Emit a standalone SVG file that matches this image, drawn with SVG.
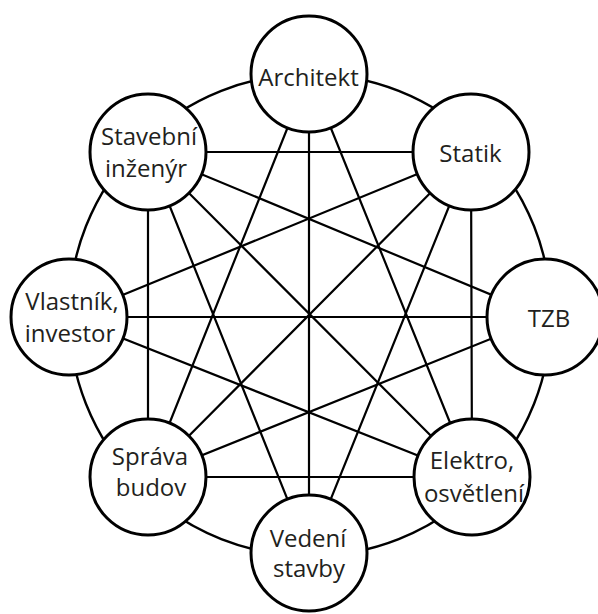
<svg xmlns="http://www.w3.org/2000/svg" width="598" height="614" viewBox="0 0 598 614">
  <style>
    .ring { fill: none; stroke: #000; stroke-width: 2.4; }
    .link { stroke: #000; stroke-width: 2.2; stroke-linecap: round; }
    .node circle { fill: #fff; stroke: #000; stroke-width: 3; }
    .node text { font-family: "Open Sans", "Noto Sans", sans-serif; font-size: 24px; fill: #231f20; text-anchor: middle; }
  </style>

  <!-- outer ring joining neighbouring roles -->
  <g id="connectors">
    <circle class="ring" cx="310" cy="315" r="241"/>
    <g class="links">
      <!-- Architekt -->
      <line class="link" x1="309" y1="74" x2="148" y2="477"/>
      <line class="link" x1="309" y1="74" x2="309" y2="553"/>
      <line class="link" x1="309" y1="74" x2="472" y2="477"/>
      <!-- Statik -->
      <line class="link" x1="471" y1="152" x2="148" y2="152"/>
      <line class="link" x1="471" y1="152" x2="69" y2="317"/>
      <line class="link" x1="471" y1="152" x2="148" y2="477"/>
      <line class="link" x1="471" y1="152" x2="309" y2="553"/>
      <line class="link" x1="471" y1="152" x2="472" y2="477"/>
      <!-- TZB -->
      <line class="link" x1="545" y1="317" x2="148" y2="152"/>
      <line class="link" x1="545" y1="317" x2="69" y2="317"/>
      <line class="link" x1="545" y1="317" x2="148" y2="477"/>
      <!-- Elektro, osvětlení -->
      <line class="link" x1="472" y1="477" x2="148" y2="152"/>
      <line class="link" x1="472" y1="477" x2="69" y2="317"/>
      <line class="link" x1="472" y1="477" x2="148" y2="477"/>
      <!-- Vedení stavby -->
      <line class="link" x1="309" y1="553" x2="148" y2="152"/>
      <!-- Správa budov -->
      <line class="link" x1="148" y1="477" x2="148" y2="152"/>
    </g>
  </g>

  <g id="architekt" class="node">
    <circle cx="309" cy="74" r="58"/>
    <text x="308.5" y="86">Architekt</text>
  </g>
  <g id="statik" class="node">
    <circle cx="471" cy="152" r="58"/>
    <text x="470.5" y="162">Statik</text>
  </g>
  <g id="tzb" class="node">
    <circle cx="545" cy="317" r="58"/>
    <text x="549" y="327">TZB</text>
  </g>
  <g id="elektro" class="node">
    <circle cx="472" cy="477" r="58"/>
    <text x="472" y="469">Elektro,</text>
    <text x="474" y="502">osvětlení</text>
  </g>
  <g id="vedeni" class="node">
    <circle cx="309" cy="553" r="58"/>
    <text x="308" y="547">Vedení</text>
    <text x="309" y="577">stavby</text>
  </g>
  <g id="sprava" class="node">
    <circle cx="148" cy="477" r="58"/>
    <text x="150" y="465">Správa</text>
    <text x="151" y="496">budov</text>
  </g>
  <g id="vlastnik" class="node">
    <circle cx="69" cy="317" r="58"/>
    <text x="72" y="310">Vlastník,</text>
    <text x="70" y="342">investor</text>
  </g>
  <g id="stavebni" class="node">
    <circle cx="148" cy="152" r="58"/>
    <text x="149" y="145">Stavební</text>
    <text x="146" y="177">inženýr</text>
  </g>
</svg>
